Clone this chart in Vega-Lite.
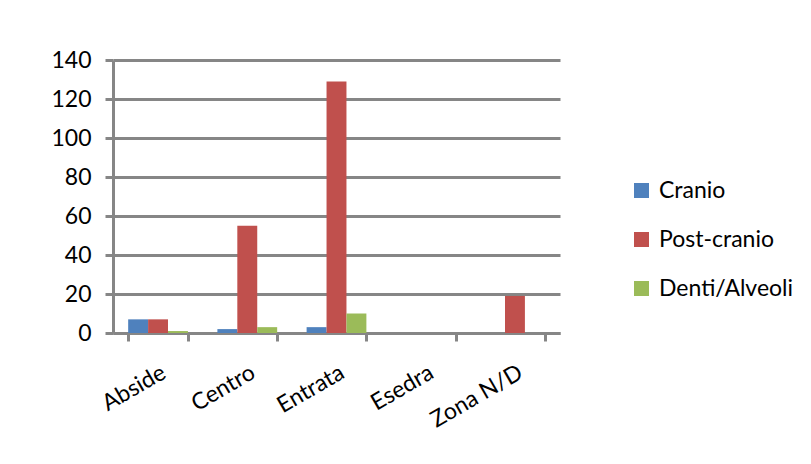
{
  "$schema": "https://vega.github.io/schema/vega-lite/v6.json",
  "width": 447,
  "height": 273,
  "autosize": {"type": "none"},
  "padding": {"left": 113, "top": 60, "right": 251, "bottom": 131},
  "background": "white",
  "config": {
    "view": {"stroke": null},
    "font": "Lato",
    "axis": {"labelFont": "Lato", "labelColor": "#000000"},
    "legend": {"labelFont": "Lato", "labelColor": "#000000"}
  },
  "data": {
    "values": [
      {"zona": "Abside", "tipo": "Cranio", "n": 7},
      {"zona": "Abside", "tipo": "Post-cranio", "n": 7},
      {"zona": "Abside", "tipo": "Denti/Alveoli", "n": 1},
      {"zona": "Centro", "tipo": "Cranio", "n": 2},
      {"zona": "Centro", "tipo": "Post-cranio", "n": 55},
      {"zona": "Centro", "tipo": "Denti/Alveoli", "n": 3},
      {"zona": "Entrata", "tipo": "Cranio", "n": 3},
      {"zona": "Entrata", "tipo": "Post-cranio", "n": 129},
      {"zona": "Entrata", "tipo": "Denti/Alveoli", "n": 10},
      {"zona": "Esedra", "tipo": "Cranio", "n": 0},
      {"zona": "Esedra", "tipo": "Post-cranio", "n": 0},
      {"zona": "Esedra", "tipo": "Denti/Alveoli", "n": 0},
      {"zona": "Zona N/D", "tipo": "Cranio", "n": 0},
      {"zona": "Zona N/D", "tipo": "Post-cranio", "n": 19},
      {"zona": "Zona N/D", "tipo": "Denti/Alveoli", "n": 0}
    ]
  },
  "mark": {"type": "bar"},
  "encoding": {
    "x": {
      "field": "zona",
      "type": "nominal",
      "sort": null,
      "title": null,
      "scale": {"paddingInner": 0.33, "paddingOuter": 0.17},
      "axis": {
        "labelAngle": -30,
        "labelFontSize": 23,
        "labelPadding": 20,
        "tickBand": "extent",
        "tickSize": 8,
        "tickWidth": 3,
        "tickColor": "#868686",
        "domainColor": "#868686",
        "domainWidth": 3
      }
    },
    "xOffset": {
      "field": "tipo",
      "type": "nominal",
      "sort": ["Cranio", "Post-cranio", "Denti/Alveoli"]
    },
    "y": {
      "field": "n",
      "type": "quantitative",
      "title": null,
      "scale": {"domain": [0, 140], "nice": false},
      "axis": {
        "values": [0, 20, 40, 60, 80, 100, 120, 140],
        "labelFontSize": 23,
        "labelPadding": 14,
        "tickSize": 8,
        "tickWidth": 3,
        "tickColor": "#868686",
        "domainColor": "#868686",
        "domainWidth": 3,
        "gridColor": "#868686",
        "gridWidth": 3
      }
    },
    "color": {
      "field": "tipo",
      "type": "nominal",
      "sort": ["Cranio", "Post-cranio", "Denti/Alveoli"],
      "scale": {"range": ["#4F81BD", "#C0504D", "#9BBB59"]},
      "legend": {
        "title": null,
        "orient": "none",
        "legendX": 517,
        "legendY": 119,
        "symbolType": "square",
        "symbolSize": 225,
        "symbolStrokeWidth": 0,
        "labelFontSize": 23,
        "labelOffset": 6,
        "rowPadding": 25
      }
    }
  }
}
